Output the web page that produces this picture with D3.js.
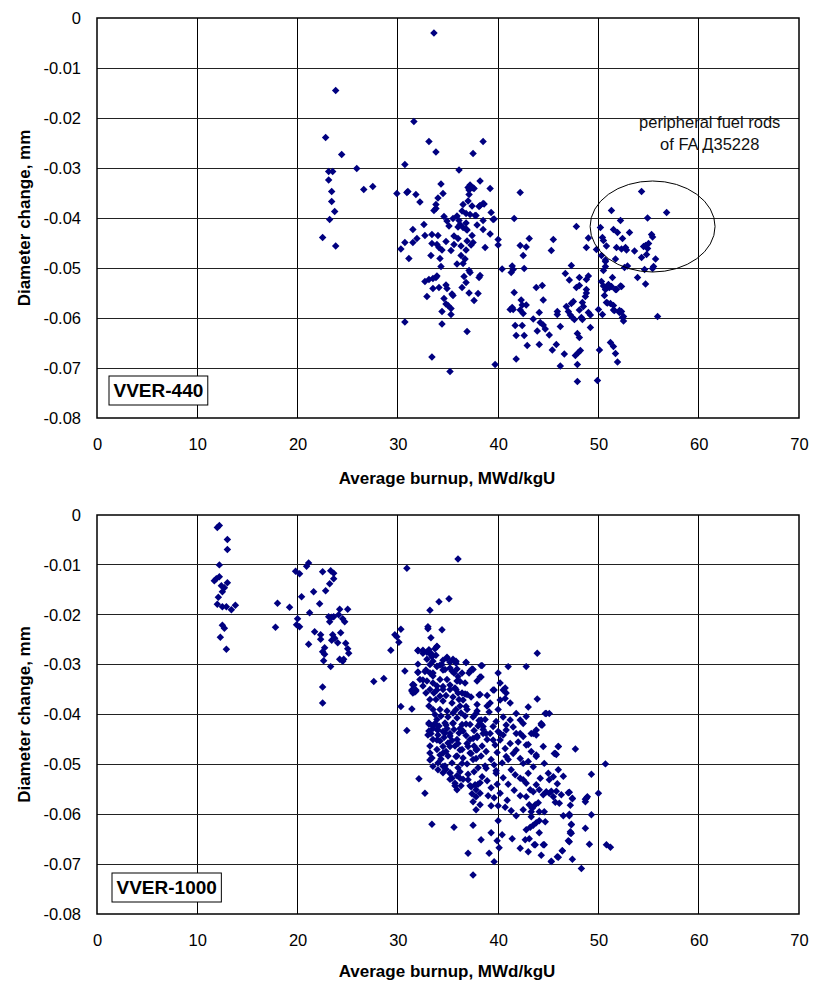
<!DOCTYPE html>
<html>
<head>
<meta charset="utf-8">
<script src="https://cdn.jsdelivr.net/npm/d3@7"></script>
<style>
  body { margin: 0; background: #fff; }
  svg { display: block; }
</style>
</head>
<body>
<svg id="chart" width="815" height="983"></svg>
<script>
// Axis ticks shared by both panels
const xTicks = [0, 10, 20, 30, 40, 50, 60, 70];
const yTicks = [0, -0.01, -0.02, -0.03, -0.04, -0.05, -0.06, -0.07, -0.08];

// VVER-440: [average burnup MWd/kgU, diameter change mm]
const vver440Points = [
  [23.8,-0.0145],[22.8,-0.0239],[24.4,-0.0273],[23.1,-0.0307],[23.5,-0.0307],[25.9,-0.0301],[23.1,-0.0324],
  [23.4,-0.0347],[23.4,-0.0367],[23.7,-0.0387],[23.2,-0.0403],[22.5,-0.0439],[23.8,-0.0456],[26.6,-0.0343],[27.5,-0.0337],
  [31.6,-0.0207],[33.6,-0.0030],[33.1,-0.0247],[33.8,-0.0268],[37.5,-0.0271],[38.5,-0.0247],[30.7,-0.0293],[36.1,-0.0304],
  [29.9,-0.0351],[30.9,-0.0349],[31.0,-0.0347],[31.8,-0.0353],[32.2,-0.0368],[34.3,-0.0332],[34.5,-0.0351],[34.0,-0.0360],
  [33.8,-0.0373],[33.6,-0.0385],[33.8,-0.0381],[32.6,-0.0413],[31.5,-0.0423],[31.9,-0.0441],[30.7,-0.0449],[31.5,-0.0449],
  [30.3,-0.0462],[31.1,-0.0481],[32.7,-0.0435],[33.4,-0.0433],[34.0,-0.0435],[33.4,-0.0451],[33.9,-0.0453],[34.1,-0.0459],
  [34.4,-0.0464],[33.3,-0.0475],[34.2,-0.0481],[34.3,-0.0497],[34.6,-0.0397],[34.9,-0.0406],[35.1,-0.0416],[35.9,-0.0396],
  [36.1,-0.0405],[36.2,-0.0413],[36.5,-0.0419],[36.8,-0.0410],[36.9,-0.0424],[37.4,-0.0435],[36.5,-0.0373],[36.4,-0.0386],
  [36.8,-0.0391],[37.2,-0.0334],[37.5,-0.0340],[37.1,-0.0344],[37.1,-0.0353],[38.2,-0.0326],[39.2,-0.0341],[37.4,-0.0376],
  [38.1,-0.0377],[38.6,-0.0372],[37.7,-0.0395],[39.3,-0.0389],[38.5,-0.0405],[39.5,-0.0403],[38.5,-0.0423],[39.2,-0.0432],
  [40.0,-0.0443],[40.0,-0.0454],[36.0,-0.0441],[35.6,-0.0453],[35.3,-0.0465],[36.3,-0.0456],[36.8,-0.0464],[36.3,-0.0475],
  [37.3,-0.0454],[37.5,-0.0449],[38.7,-0.0459],[36.7,-0.0482],[36.5,-0.0491],[35.9,-0.0492],[37.1,-0.0505],[37.2,-0.0509],
  [36.6,-0.0517],[38.2,-0.0515],[38.1,-0.0519],[36.8,-0.0529],[36.4,-0.0539],[37.1,-0.0550],[38.0,-0.0551],[37.6,-0.0565],
  [40.4,-0.0502],[32.7,-0.0527],[33.1,-0.0523],[33.5,-0.0521],[33.8,-0.0519],[33.9,-0.0516],[32.9,-0.0557],[33.5,-0.0541],
  [34.1,-0.0539],[34.8,-0.0534],[34.9,-0.0541],[35.4,-0.0552],[35.5,-0.0555],[34.6,-0.0561],[34.8,-0.0572],[35.0,-0.0575],
  [35.3,-0.0581],[34.4,-0.0587],[35.3,-0.0593],[30.7,-0.0608],[34.4,-0.0612],[36.9,-0.0627],[33.4,-0.0678],[35.2,-0.0707],
  [39.7,-0.0693],[37.2,-0.0393],[37.8,-0.0395],[39.6,-0.0402],[36.8,-0.0422],[37.0,-0.0339],[37.6,-0.0341],[38.2,-0.0375],
  [38.5,-0.0371],[35.5,-0.0401],[36.0,-0.0418],[37.9,-0.0414],[37.0,-0.0366],[35.6,-0.0436],[34.8,-0.0447],[36.9,-0.0446],
  [42.2,-0.0349],[41.6,-0.0401],[47.8,-0.0417],[43.1,-0.0441],[42.2,-0.0455],[42.8,-0.0458],[42.5,-0.0475],[45.5,-0.0443],
  [45.3,-0.0465],[41.4,-0.0496],[41.3,-0.0509],[42.6,-0.0501],[41.5,-0.0503],[47.3,-0.0495],[46.7,-0.0511],[47.1,-0.0524],
  [48.1,-0.0519],[49.0,-0.0516],[48.8,-0.0523],[49.0,-0.0440],[48.8,-0.0459],[50.2,-0.0419],[51.3,-0.0385],[52.2,-0.0405],
  [51.5,-0.0423],[51.9,-0.0429],[52.4,-0.0441],[53.1,-0.0429],[50.4,-0.0439],[50.5,-0.0445],[49.8,-0.0463],[50.8,-0.0456],
  [50.3,-0.0475],[50.7,-0.0484],[51.7,-0.0482],[51.8,-0.0459],[52.3,-0.0462],[52.7,-0.0459],[52.8,-0.0464],[53.6,-0.0466],
  [54.3,-0.0347],[56.8,-0.0389],[54.9,-0.0400],[55.3,-0.0433],[55.4,-0.0438],[54.5,-0.0457],[54.7,-0.0455],[55.0,-0.0451],
  [54.9,-0.0461],[54.3,-0.0479],[54.8,-0.0473],[55.7,-0.0482],[52.9,-0.0496],[52.6,-0.0499],[54.6,-0.0503],[55.5,-0.0497],
  [55.4,-0.0501],[53.9,-0.0519],[54.7,-0.0532],[50.7,-0.0497],[50.5,-0.0505],[50.7,-0.0487],[50.3,-0.0527],[50.5,-0.0536],
  [50.9,-0.0539],[51.3,-0.0537],[51.0,-0.0533],[51.4,-0.0519],[52.3,-0.0537],[51.8,-0.0543],[50.6,-0.0555],[50.9,-0.0570],
  [51.2,-0.0571],[51.5,-0.0575],[50.0,-0.0583],[50.4,-0.0593],[51.5,-0.0584],[52.1,-0.0589],[52.3,-0.0587],[52.5,-0.0597],
  [52.5,-0.0606],[55.9,-0.0597],[51.2,-0.0649],[51.5,-0.0657],[51.7,-0.0671],[51.9,-0.0688],[50.1,-0.0664],[41.6,-0.0549],
  [42.3,-0.0564],[42.4,-0.0574],[42.8,-0.0574],[42.5,-0.0591],[42.2,-0.0584],[41.4,-0.0579],[41.5,-0.0583],[43.8,-0.0539],
  [44.4,-0.0535],[44.5,-0.0564],[43.5,-0.0602],[44.1,-0.0589],[41.7,-0.0615],[42.4,-0.0615],[41.8,-0.0635],[42.6,-0.0635],
  [44.2,-0.0609],[44.5,-0.0614],[44.7,-0.0622],[43.9,-0.0626],[42.9,-0.0655],[44.1,-0.0653],[45.1,-0.0634],[41.8,-0.0682],
  [45.4,-0.0664],[45.8,-0.0653],[46.6,-0.0672],[46.2,-0.0617],[46.2,-0.0696],[45.9,-0.0587],[45.9,-0.0593],[46.8,-0.0577],
  [47.3,-0.0571],[47.5,-0.0567],[47.0,-0.0587],[47.2,-0.0594],[47.4,-0.0599],[47.6,-0.0603],[48.1,-0.0584],[48.4,-0.0569],
  [48.5,-0.0577],[48.3,-0.0599],[48.4,-0.0603],[49.0,-0.0589],[49.2,-0.0594],[49.2,-0.0619],[47.9,-0.0631],[48.1,-0.0639],
  [48.2,-0.0665],[48.0,-0.0669],[47.7,-0.0675],[47.9,-0.0693],[47.9,-0.0727],[49.9,-0.0725],[47.8,-0.0539],[48.1,-0.0535],
  [48.8,-0.0543],[48.8,-0.0550],[48.7,-0.0557],[51.0,-0.0534],[51.1,-0.0539],[50.7,-0.0543],[51.7,-0.0543],[52.2,-0.0536],
  [50.8,-0.0569],[51.6,-0.0585],[52.1,-0.0585],[52.4,-0.0599],[41.2,-0.0583]
];

// VVER-1000: [average burnup MWd/kgU, diameter change mm]
const vver1000Points = [
  [12.0,-0.0025],[12.2,-0.0021],[13.0,-0.0049],[13.0,-0.0069],[12.2,-0.0100],[11.7,-0.0132],[11.9,-0.0128],[12.2,-0.0124],
  [12.4,-0.0142],[12.7,-0.0146],[12.5,-0.0154],[13.0,-0.0136],[12.1,-0.0165],[12.0,-0.0179],[12.5,-0.0184],[12.9,-0.0184],
  [13.4,-0.0190],[13.8,-0.0181],[12.5,-0.0221],[12.7,-0.0227],[12.3,-0.0245],[12.9,-0.0269],
  [17.8,-0.0225],[18.0,-0.0177],[19.2,-0.0185],[19.8,-0.0113],[20.2,-0.0118],[20.4,-0.0164],[20.0,-0.0208],[19.9,-0.0220],
  [20.2,-0.0224],[20.9,-0.0103],[21.1,-0.0096],[21.2,-0.0196],[21.1,-0.0259],[21.6,-0.0154],[21.7,-0.0234],[22.2,-0.0178],
  [22.5,-0.0114],[22.8,-0.0152],[23.2,-0.0138],[23.3,-0.0112],[23.6,-0.0117],[23.6,-0.0128],[22.3,-0.0240],[22.3,-0.0249],
  [22.5,-0.0274],[22.7,-0.0266],[22.7,-0.0279],[22.6,-0.0292],[23.1,-0.0204],[23.4,-0.0205],[23.6,-0.0204],[23.2,-0.0214],
  [24.1,-0.0200],[24.2,-0.0189],[24.5,-0.0208],[24.7,-0.0214],[25.0,-0.0189],[23.5,-0.0240],[23.7,-0.0247],[23.4,-0.0251],
  [24.0,-0.0256],[24.3,-0.0236],[24.8,-0.0257],[25.0,-0.0268],[25.1,-0.0277],[24.2,-0.0289],[24.5,-0.0293],[24.6,-0.0289],
  [23.3,-0.0304],[22.5,-0.0345],[22.5,-0.0377],
  [27.6,-0.0334],[28.6,-0.0328],[29.3,-0.0271],[29.7,-0.0240],[29.9,-0.0244],[30.1,-0.0255],[30.3,-0.0229],[30.9,-0.0107],
  [30.7,-0.0313],[32.0,-0.0272],[32.0,-0.0299],[32.0,-0.0315],[31.5,-0.0341],[31.4,-0.0351],[31.7,-0.0355],[30.3,-0.0384],
  [31.4,-0.0389],[30.9,-0.0432],[32.1,-0.0529],
  [36.0,-0.0088],[35.1,-0.0168],[34.1,-0.0174],[33.2,-0.0191],[33.0,-0.0224],[33.0,-0.0228],[34.4,-0.0230],[33.3,-0.0246],
  [33.9,-0.0264],[33.7,-0.0268],[43.9,-0.0277],[41.0,-0.0304],[42.8,-0.0304],[40.0,-0.0317],[40.2,-0.0337],[40.7,-0.0347],
  [39.6,-0.0351],[36.8,-0.0296],[38.3,-0.0302],[37.4,-0.0309],[37.2,-0.0313],[38.2,-0.0325],[43.9,-0.0369],[43.0,-0.0385],
  [44.7,-0.0398],[45.1,-0.0398],[44.4,-0.0421],[38.1,-0.0361],[36.7,-0.0359],[40.7,-0.0368],
  [32.5,-0.0271],[32.9,-0.0275],[33.3,-0.0277],[33.4,-0.0284],[33.8,-0.0281],[34.9,-0.0285],[35.5,-0.0289],[35.8,-0.0297],
  [34.5,-0.0291],[34.2,-0.0301],[33.9,-0.0304],[34.5,-0.0311],[35.2,-0.0307],[35.6,-0.0317],[36.0,-0.0324],[32.0,-0.0316],
  [32.7,-0.0314],[33.5,-0.0317],[32.5,-0.0331],[32.8,-0.0357],[31.6,-0.0341],[31.5,-0.0357],[31.8,-0.0351],
  [33.5,-0.0337],[33.9,-0.0351],[34.5,-0.0344],[35.2,-0.0341],[35.7,-0.0347],[36.0,-0.0357],[36.2,-0.0334],[36.5,-0.0371],
  [36.8,-0.0384],[37.8,-0.0398],[38.3,-0.0411],[38.5,-0.0424],[38.8,-0.0438],[39.5,-0.0451],[40.2,-0.0438],[40.8,-0.0431],
  [41.2,-0.0411],[41.8,-0.0398],[42.8,-0.0404],[40.2,-0.0371],[39.2,-0.0377],[39.5,-0.0351],[40.5,-0.0351],[40.8,-0.0357],
  [41.2,-0.0377],[42.2,-0.0411],[41.8,-0.0438],[43.3,-0.0438],[43.8,-0.0431],[44.3,-0.0418],[44.8,-0.0398],
  [32.0,-0.0271],[32.5,-0.0277],[33.1,-0.0270],[33.3,-0.0280],[33.9,-0.0263],[32.9,-0.0289],[33.5,-0.0293],[33.2,-0.0300],
  [32.8,-0.0311],[33.2,-0.0317],[33.9,-0.0303],[34.4,-0.0300],[34.9,-0.0287],[35.2,-0.0295],[35.8,-0.0293],[34.7,-0.0310],
  [35.4,-0.0313],[35.9,-0.0309],[36.8,-0.0295],[37.5,-0.0310],[38.4,-0.0302],[38.3,-0.0325],[37.9,-0.0333],[37.1,-0.0317],
  [36.4,-0.0317],[36.7,-0.0337],[35.9,-0.0333],[34.9,-0.0330],[34.2,-0.0330],[33.5,-0.0323],[32.9,-0.0333],[32.2,-0.0330],
  [31.5,-0.0340],[31.4,-0.0353],[31.8,-0.0353],[32.5,-0.0343],[33.2,-0.0350],[33.9,-0.0343],[34.5,-0.0350],[35.2,-0.0350],
  [35.8,-0.0350],[36.4,-0.0357],[36.9,-0.0360],[38.2,-0.0360],[38.9,-0.0383],[37.9,-0.0380],[36.9,-0.0390],[36.2,-0.0383],
  [35.4,-0.0377],[34.5,-0.0373],[33.8,-0.0370],[33.2,-0.0370],[33.1,-0.0383],[33.5,-0.0390],[34.2,-0.0390],[34.9,-0.0393],
  [35.5,-0.0397],[35.9,-0.0407],[36.7,-0.0403],[37.9,-0.0393],[38.7,-0.0410],[38.0,-0.0423],[37.2,-0.0420],[36.4,-0.0420],
  [35.5,-0.0417],[34.7,-0.0417],[33.9,-0.0410],[33.1,-0.0417],[33.1,-0.0433],[33.9,-0.0430],[34.7,-0.0437],[35.2,-0.0443],
  [35.9,-0.0450],[36.5,-0.0433],[37.2,-0.0450],[37.9,-0.0443],[38.5,-0.0430],[38.9,-0.0450],[38.4,-0.0463],[37.9,-0.0470],
  [37.2,-0.0477],[36.4,-0.0470],[35.7,-0.0463],[35.0,-0.0457],[34.2,-0.0453],[33.5,-0.0450],[33.2,-0.0463],[33.9,-0.0470],
  [34.5,-0.0477],[35.0,-0.0483],[35.9,-0.0483],[36.5,-0.0487],[37.5,-0.0490],[38.0,-0.0507],[38.7,-0.0503],[38.9,-0.0533],
  [38.0,-0.0540],[37.2,-0.0543],[36.5,-0.0530],[35.9,-0.0523],[35.2,-0.0517],[34.7,-0.0503],[34.0,-0.0497],[33.4,-0.0487],
  [33.2,-0.0477],[34.5,-0.0517],[35.2,-0.0530],[35.7,-0.0543],[37.0,-0.0520],[36.0,-0.0507],
  [32.7,-0.0558],[33.4,-0.0620],[35.6,-0.0626],[37.5,-0.0622],[38.3,-0.0651],[37.0,-0.0678],[37.5,-0.0722],[39.1,-0.0678],
  [39.6,-0.0695],[39.3,-0.0637],[40.0,-0.0613],[39.9,-0.0653],[40.1,-0.0667],[40.4,-0.0641],[41.4,-0.0649],[42.2,-0.0668],
  [43.0,-0.0675],[42.7,-0.0651],[43.1,-0.0649],[42.8,-0.0631],[43.2,-0.0626],[43.5,-0.0622],[43.8,-0.0617],[44.1,-0.0613],
  [44.1,-0.0637],[44.7,-0.0615],[43.6,-0.0661],[44.5,-0.0661],[44.3,-0.0682],[45.3,-0.0695],[46.0,-0.0686],[46.4,-0.0673],
  [47.4,-0.0690],[48.3,-0.0709],[47.0,-0.0653],[47.2,-0.0635],[47.3,-0.0638],[47.3,-0.0620],[47.1,-0.0600],[46.5,-0.0603],
  [48.7,-0.0628],[49.1,-0.0660],[49.3,-0.0601],[50.8,-0.0661],[51.2,-0.0666],[50.0,-0.0558],[49.3,-0.0520],[50.7,-0.0499],
  [48.7,-0.0570],[48.9,-0.0565],[47.4,-0.0569],[47.2,-0.0582],[47.1,-0.0556],[47.7,-0.0469],[46.0,-0.0464],[45.6,-0.0478],
  [45.8,-0.0480],[46.5,-0.0524],[46.0,-0.0511],[45.9,-0.0539],[45.3,-0.0554],[45.5,-0.0565],[45.8,-0.0554],[44.6,-0.0595],
  [44.1,-0.0595],[43.7,-0.0581],[43.4,-0.0588],[43.1,-0.0581],[43.3,-0.0595],[44.0,-0.0577],[43.3,-0.0605],[42.5,-0.0591],
  [41.8,-0.0603],[41.3,-0.0593],[40.7,-0.0586],[40.0,-0.0583],[39.3,-0.0583],[37.8,-0.0591],[38.2,-0.0581],[37.5,-0.0575],
  [37.8,-0.0565],[39.3,-0.0547],[39.6,-0.0567],[40.2,-0.0558],[40.9,-0.0572],[38.8,-0.0508],[39.8,-0.0513],[39.8,-0.0518],
  [39.6,-0.0501],[38.2,-0.0537],[37.8,-0.0551],[37.4,-0.0559],[38.2,-0.0558],[37.3,-0.0545],[37.7,-0.0541],[37.0,-0.0531],
  [35.9,-0.0551],[35.7,-0.0538],[36.3,-0.0543],[36.2,-0.0528],[35.4,-0.0528],[35.2,-0.0518],[34.8,-0.0510],[34.5,-0.0504],
  [34.0,-0.0511],[33.5,-0.0504],[33.2,-0.0491],[36.2,-0.0515],[36.4,-0.0498],[34.8,-0.0474],[34.2,-0.0481],[34.5,-0.0464],
  [35.2,-0.0464],[35.8,-0.0484],[33.9,-0.0451],[33.3,-0.0438],[33.0,-0.0441],[33.1,-0.0419],[33.5,-0.0428],[34.0,-0.0431],
  [34.5,-0.0434],[35.2,-0.0438],[35.5,-0.0418],[36.2,-0.0428],[36.0,-0.0458],[36.2,-0.0471],[37.5,-0.0448],[37.9,-0.0446],
  [37.8,-0.0471],[37.8,-0.0488],[37.3,-0.0478],[37.0,-0.0464],[38.5,-0.0438],[38.8,-0.0474],[39.2,-0.0438],[39.5,-0.0424],
  [40.0,-0.0434],[40.2,-0.0451],[39.7,-0.0461],[40.5,-0.0441],[40.8,-0.0421],[41.2,-0.0458],[40.7,-0.0468],[41.5,-0.0478],
  [41.8,-0.0471],[42.2,-0.0488],[40.8,-0.0484],[41.3,-0.0511],[41.7,-0.0521],[42.2,-0.0528],[42.5,-0.0531],[42.8,-0.0538],
  [43.2,-0.0551],[43.5,-0.0555],[43.8,-0.0541],[44.1,-0.0551],[44.5,-0.0561],[44.8,-0.0555],[45.1,-0.0558],[42.5,-0.0498],
  [43.0,-0.0494],[43.5,-0.0505],[43.8,-0.0484],[44.5,-0.0464],[44.6,-0.0498],[45.0,-0.0518],[45.5,-0.0525],[45.1,-0.0531],
  [42.2,-0.0438],[42.5,-0.0444],[42.8,-0.0461],[43.5,-0.0438],[43.8,-0.0441],[44.3,-0.0421],[43.3,-0.0474],[43.8,-0.0481],
  [42.5,-0.0418],[39.8,-0.0414],[38.2,-0.0418],[36.8,-0.0419],[34.8,-0.0421],[33.7,-0.0418],
  [46.0,-0.0464],[45.7,-0.0478],[48.7,-0.0575],[48.8,-0.0568],[46.4,-0.0673],[45.9,-0.0685],[45.3,-0.0694],[47.1,-0.0655],
  [47.2,-0.0638],[47.3,-0.0621],[47.1,-0.0603],[47.4,-0.0568],[47.0,-0.0557],[46.3,-0.0561],[46.1,-0.0578],[45.7,-0.0576],
  [43.7,-0.0661],[44.6,-0.0661],
  [33.6,-0.0357],[34.2,-0.0363],[34.8,-0.0362],[35.5,-0.0365],[36.1,-0.0370],[33.7,-0.0400],[34.3,-0.0403],[35.0,-0.0405],
  [35.8,-0.0390],[36.3,-0.0397],[33.5,-0.0423],[34.1,-0.0423],[34.9,-0.0428],[35.6,-0.0430],[36.1,-0.0437],[34.0,-0.0441],
  [34.6,-0.0446],[35.4,-0.0452],[36.8,-0.0442],[37.6,-0.0432],[38.1,-0.0412],[37.5,-0.0405],[36.9,-0.0458],[37.6,-0.0463],
  [38.3,-0.0483],[36.9,-0.0499],[37.6,-0.0515],[38.4,-0.0525],[35.4,-0.0497],[34.3,-0.0489],[39.3,-0.0490],[39.9,-0.0476],
  [40.4,-0.0497],[41.0,-0.0490],[40.5,-0.0527],[41.0,-0.0540],[41.6,-0.0552],[42.2,-0.0563],[42.8,-0.0565],[39.0,-0.0563],
  [39.9,-0.0540],[40.5,-0.0405],[41.5,-0.0425],[42.0,-0.0455],[43.0,-0.0518],[44.2,-0.0528],[43.0,-0.0460],[39.1,-0.0395],
  [40.0,-0.0390],[37.3,-0.0365],[38.9,-0.0362]
];

const panels = [
  { label: "VVER-440",  points: vver440Points,  top: 18,  bottom: 418, titleY: 484, labelBox: [109, 376], ellipse: true },
  { label: "VVER-1000", points: vver1000Points, top: 515, bottom: 914, titleY: 977, labelBox: [112, 873], ellipse: false }
];

const FONT = "'Liberation Sans', Arial, Helvetica, sans-serif";
const svg = d3.select("#chart");
const left = 97, right = 799;

panels.forEach(p => {
  const x = d3.scaleLinear().domain([0, 70]).range([left, right]);
  const y = d3.scaleLinear().domain([-0.08, 0]).range([p.bottom, p.top]);
  const g = svg.append("g");

  // grid lines
  g.append("g").selectAll("line").data(xTicks.slice(1, -1)).join("line")
    .attr("x1", d => x(d)).attr("x2", d => x(d))
    .attr("y1", p.top).attr("y2", p.bottom)
    .attr("stroke", "#000").attr("stroke-width", 1).attr("shape-rendering", "crispEdges");
  g.append("g").selectAll("line").data(yTicks.slice(1, -1)).join("line")
    .attr("x1", left).attr("x2", right)
    .attr("y1", d => y(d)).attr("y2", d => y(d))
    .attr("stroke", "#222").attr("stroke-width", 1).attr("shape-rendering", "crispEdges");

  // plot frame
  g.append("rect")
    .attr("x", left).attr("y", p.top)
    .attr("width", right - left).attr("height", p.bottom - p.top)
    .attr("fill", "none").attr("stroke", "#000").attr("stroke-width", 1.5);

  // axes (labels only)
  const yAxis = d3.axisLeft(y).tickValues(yTicks).tickSize(0).tickPadding(16)
    .tickFormat(d => d === 0 ? "0" : d.toFixed(2));
  const ya = g.append("g").attr("transform", `translate(${left},0)`).call(yAxis);
  const xAxis = d3.axisBottom(x).tickValues(xTicks).tickSize(0).tickPadding(20)
    .tickFormat(d3.format("d"));
  const xa = g.append("g").attr("transform", `translate(0,${p.bottom})`).call(xAxis);
  [ya, xa].forEach(a => {
    a.select(".domain").remove();
    a.selectAll("text").attr("font-family", FONT).attr("font-size", 16.5).attr("fill", "#000");
  });

  // axis titles
  g.append("text")
    .attr("x", 447).attr("y", p.titleY)
    .attr("text-anchor", "middle")
    .attr("font-family", FONT).attr("font-weight", "bold").attr("font-size", 17)
    .text("Average burnup, MWd/kgU");
  g.append("text")
    .attr("transform", `translate(30,${(p.top + p.bottom) / 2}) rotate(-90)`)
    .attr("text-anchor", "middle")
    .attr("font-family", FONT).attr("font-weight", "bold").attr("font-size", 17)
    .text("Diameter change, mm");

  // data markers (diamonds)
  g.append("g").selectAll("path").data(p.points).join("path")
    .attr("d", d3.symbol(d3.symbolSquare, 28)())
    .attr("transform", d => `translate(${x(d[0])},${y(d[1])}) rotate(45)`)
    .attr("fill", "#000080");

  // reactor type label box
  const lb = g.append("g");
  const lt = lb.append("text")
    .attr("x", p.labelBox[0] + 4.5).attr("y", p.labelBox[1] + 21)
    .attr("font-family", FONT).attr("font-weight", "bold").attr("font-size", 19)
    .text(p.label);
  const w = lt.node().getComputedTextLength();
  lb.insert("rect", "text")
    .attr("x", p.labelBox[0]).attr("y", p.labelBox[1])
    .attr("width", w + 9).attr("height", 29)
    .attr("fill", "#fff").attr("stroke", "#000").attr("stroke-width", 1);

  if (p.ellipse) {
    g.append("ellipse")
      .attr("cx", x(55.4)).attr("cy", y(-0.0417))
      .attr("rx", x(6.23) - x(0)).attr("ry", y(-0.0091) - y(0))
      .attr("fill", "none").attr("stroke", "#000").attr("stroke-width", 1);
    const note = g.append("text")
      .attr("text-anchor", "middle")
      .attr("font-family", FONT).attr("font-size", 16.5).attr("fill", "#111");
    note.append("tspan").attr("x", x(61.1)).attr("y", y(-0.022)).text("peripheral fuel rods");
    note.append("tspan").attr("x", x(61.1)).attr("y", y(-0.0264)).text("of FA Д35228");
  }
});
</script>
</body>
</html>
